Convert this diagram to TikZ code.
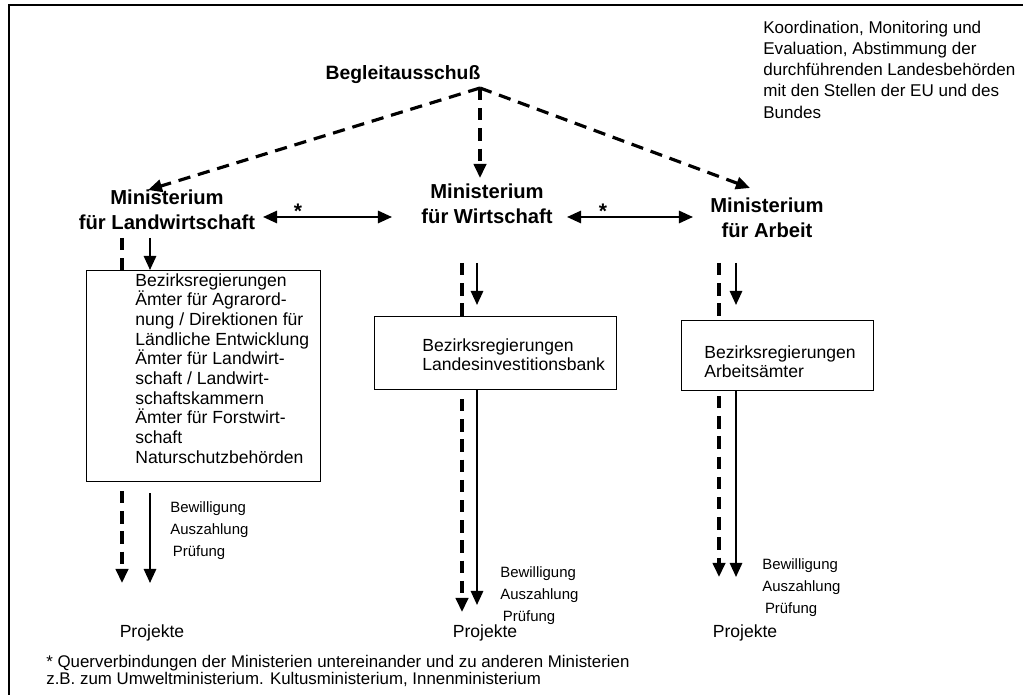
\documentclass[tikz,border=0pt]{standalone}
\usepackage{fontspec}
\setmainfont{Liberation Sans}
\usetikzlibrary{arrows.meta}

\tikzset{
  head/.style={font=\bfseries\fontsize{11.5}{14}\selectfont, align=center, inner sep=0pt},
  txt/.style={font=\fontsize{10}{11.2}\selectfont, align=left, inner sep=0pt, anchor=north west},
  small/.style={font=\fontsize{8.5}{12.5}\selectfont, align=left, inner sep=0pt, anchor=north west},
  amt/.style={draw, line width=0.6pt, fill=white, inner sep=0pt},
  solidarr/.style={line width=1.2pt, -{Triangle[length=8pt,width=7pt]}},
  dasharr/.style={line width=1.8pt, dash pattern=on 7pt off 4.5pt, -{Triangle[length=8pt,width=7pt]}},
  dashline/.style={line width=1.8pt, dash pattern=on 7pt off 4.5pt},
  both/.style={line width=1.2pt, {Triangle[length=8pt,width=7pt]}-{Triangle[length=8pt,width=7pt]}},
  star/.style={font=\bfseries\fontsize{12}{12}\selectfont, inner sep=0pt}
}

\begin{document}
\begin{tikzpicture}[x=0.02cm, y=-0.02cm]
\useasboundingbox (0,0) rectangle (1023,695);
% frame, right and bottom edge lie outside
\draw[line width=1.2pt] (9,720) -- (9,5) -- (1050,5);

% top
\node[head, font=\bfseries\fontsize{11}{14}\selectfont] (bgl) at (403,75) {Begleitausschuß};
\node[txt, font=\fontsize{9.7}{12}\selectfont] (koord) at (763,21) {Koordination, Monitoring und\\Evaluation, Abstimmung der\\durchführenden Landesbehörden\\mit den Stellen der EU und des\\Bundes};
\coordinate (apex) at (480,88);

% ministries
\node[head] (mlw) at (167,210) {Ministerium\\für Landwirtschaft};
\node[head] (mwi) at (487,204) {Ministerium\\für Wirtschaft};
\node[head] (mar) at (767,218) {Ministerium\\für Arbeit};

\coordinate (tlw) at (148,190);
\coordinate (twi) at (480,178);
\coordinate (tar) at (750,188);
\draw[dasharr] (apex) -- (tlw);
\draw[dasharr] (apex) -- (twi);
\draw[dasharr] (apex) -- (tar);

% cross links
\coordinate (lw-r) at (263,217);
\coordinate (wi-l) at (392,217);
\coordinate (wi-r) at (567,217);
\coordinate (ar-l) at (693,217);
\draw[both] (lw-r) -- (wi-l);
\draw[both] (wi-r) -- (ar-l);
\node[star] (s1) at (298,211) {*};
\node[star] (s2) at (603,211) {*};

% boxes
\node[amt, minimum width=234*0.02cm, minimum height=211*0.02cm, anchor=north west] (blw) at (86,270) {};
\node[txt] at (135,273) {Bezirksregierungen\\Ämter für Agrarord-\\nung / Direktionen für\\Ländliche Entwicklung\\Ämter für Landwirt-\\schaft / Landwirt-\\schaftskammern\\Ämter für Forstwirt-\\schaft\\Naturschutzbehörden};

\node[amt, minimum width=242*0.02cm, minimum height=73*0.02cm, anchor=north west] (bwi) at (374,316) {};
\node[txt] at (422,338) {Bezirksregierungen\\Landesinvestitionsbank};

\node[amt, minimum width=192*0.02cm, minimum height=70*0.02cm, anchor=north west] (bar) at (681,320) {};
\node[txt] at (704,345) {Bezirksregierungen\\Arbeitsämter};

% projects
\node[font=\fontsize{10}{12}\selectfont] (plw) at (152,633) {Projekte};
\node[font=\fontsize{10}{12}\selectfont] (pwi) at (485,633) {Projekte};
\node[font=\fontsize{10}{12}\selectfont] (par) at (745,633) {Projekte};

% left column
\draw[dashline] (122,238) -- (blw.north -| 122,0);
\draw[solidarr] (150,238) -- (blw.north -| 150,0);
\draw[dasharr] (blw.south -| 122,0) ++(0,9) -- (122,583);
\draw[solidarr] (blw.south -| 150,0) ++(0,11) -- (150,583);
\node[small] at (170,501) {Bewilligung\\Auszahlung\\\hspace*{1.5pt}Prüfung};

% middle column
\draw[dashline] (462,263) -- (bwi.north -| 462,0);
\draw[solidarr] (477,263) -- (477,305);
\draw[dasharr] (bwi.south -| 462,0) ++(0,9) -- (462,612);
\draw[solidarr] (bwi.south -| 477,0) -- (477,605);
\node[small] at (500,566) {Bewilligung\\Auszahlung\\\hspace*{1.5pt}Prüfung};

% right column
\draw[dashline] (719,263) -- (bar.north -| 719,0);
\draw[solidarr] (736,263) -- (736,305);
\draw[dasharr] (bar.south -| 719,0) ++(0,5) -- (719,577);
\draw[solidarr] (bar.south -| 736,0) -- (736,577);
\node[small] at (762,558) {Bewilligung\\Auszahlung\\\hspace*{1.5pt}Prüfung};

% footnote
\node[font=\fontsize{9.6}{9.8}\selectfont, align=left, anchor=north west, inner sep=0pt] (fn) at (46,655) {* Querverbindungen der Ministerien untereinander und zu anderen Ministerien\\z.B. zum Umweltministerium. Kultusministerium, Innenministerium};
\end{tikzpicture}
\end{document}
